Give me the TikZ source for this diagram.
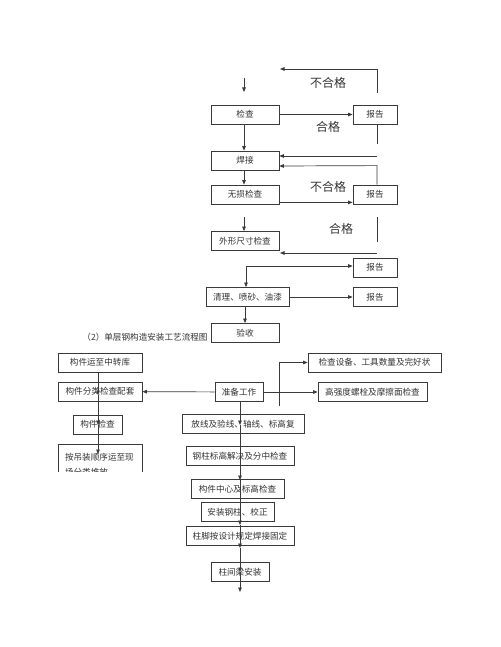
\documentclass[tikz,border=0pt]{standalone}
\usepackage{fontspec}
\setmainfont{Noto Sans CJK SC}
\usetikzlibrary{arrows.meta}
\definecolor{lnc}{HTML}{3A3A3A}
\definecolor{txc}{HTML}{333333}
\tikzset{
  fbox/.style={draw=lnc,line width=0.8pt,fill=white,inner sep=0pt,minimum height=19,
    text=txc,font=\fontsize{8.6}{10}\selectfont},
  flbl/.style={text=txc,font=\fontsize{12}{14}\selectfont},
  farr/.style={-{Triangle[length=4.5pt,width=3.6pt]},line width=0.7pt,draw=lnc},
  fln/.style={line width=0.7pt,draw=lnc}
}
\begin{document}
\begin{tikzpicture}[x=1pt,y=-1pt]
  \useasboundingbox (0,0) rectangle (500,647);
  % upper part
  \node[fbox,minimum width=68] (chk) at (245,114.5) {检查};
  \node[fbox,minimum width=44] (rep1) at (375,114.5) {报告};
  \node[fbox,minimum width=68] (weld) at (245,160.5) {焊接};
  \node[fbox,minimum width=68] (ndt) at (245,194.5) {无损检查};
  \node[fbox,minimum width=44] (rep2) at (375,194.5) {报告};
  \node[fbox,minimum width=68] (dim) at (245,241) {外形尺寸检查};
  \node[fbox,minimum width=44] (rep3) at (375,267.5) {报告};
  \node[fbox,minimum width=83] (clean) at (247.5,297) {清理、喷砂、油漆};
  \node[fbox,minimum width=44] (rep4) at (375,297) {报告};
  \node[fbox,minimum width=68] (acc) at (245,333) {验收};
  \node[flbl] (ng1) at (328,83) {不合格};
  \node[flbl] (ok1) at (328,127) {合格};
  \node[flbl] (ng2) at (328,187) {不合格};
  \node[flbl] (ok2) at (341,229) {合格};
  \coordinate (in1) at (244,78);
  \coordinate (in1e) at (244,92);
  \coordinate (fb1) at (377,93);
  \coordinate (fb1e) at (280,69);
  \coordinate (st1) at (377,144);
  \coordinate (fb2) at (377,156);
  \coordinate (in2) at (244,217);
  \coordinate (st2a) at (377,217);
  \coordinate (st2b) at (377,242);
  \coordinate (fb3) at (377,253);
  \coordinate (fb3e) at (280,253);
  \coordinate (br) at (246,266);
  \draw[farr] (in1) -- (in1e);
  \draw[farr] (fb1) -- (fb1 |- fb1e) -- (fb1e);
  \draw[farr] (chk) -- (rep1);
  \draw[farr] (chk.south -| in1) -- (weld.north -| in1);
  \draw[fln] (rep1.south -| st1) -- (st1);
  \draw[farr] (fb2) -- (fb2 -| weld.east);
  \draw[farr] (rep2.north -| st1) -- ++(0,-19) -- (weld.east |- 0,166);
  \draw[farr] (weld.south -| in1) -- (ndt.north -| in1);
  \draw[farr] ([yshift=2]ndt.south east) -- ([yshift=2]ndt.south east -| rep2.west);
  \draw[farr] (in2) -- (dim.north -| in2);
  \draw[fln] (st2a) -- (st2b);
  \draw[farr] (fb3) -- (fb3e);
  \draw[farr] (br) -- (br -| rep3.west);
  \draw[farr] (br) -- (clean.north -| br);
  \draw[farr] (clean) -- (rep4);
  \draw[farr] (clean.south -| acc) -- (acc);
  % lower part
  \node[text=txc,font=\fontsize{8.6}{10}\selectfont] (ttl) at (145,337) {（2）单层钢构造安装工艺流程图};
  \node[fbox,minimum width=84] (ku) at (100,362.5) {构件运至中转库};
  \node[fbox,minimum width=84] (fen) at (100,391.5) {构件分类检查配套};
  \node[fbox,minimum width=49] (gjc) at (97.5,424.5) {构件检查};
  \begin{scope}
    \clip (0,0) rectangle (500,471);
    \node[fbox,minimum width=84,minimum height=40,anchor=north,text width=70,align=left,
      font=\fontsize{8.6}{15}\selectfont] (dz) at (100,444) {按吊装顺序运至现\\场分类堆放};
  \end{scope}
  \node[fbox,minimum width=48] (prep) at (239,392) {准备工作};
  \node[fbox,minimum width=133] (sb) at (374.5,362.5) {检查设备、工具数量及完好状};
  \node[fbox,minimum width=109] (gq) at (372.5,392) {高强度螺栓及摩擦面检查};
  \node[fbox,minimum width=122] (fx) at (243,424) {放线及验线、轴线、标高复};
  \node[fbox,minimum width=108] (gz) at (240,456) {钢柱标高解决及分中检查};
  \node[fbox,minimum width=93] (zx) at (237.5,489) {构件中心及标高检查};
  \node[fbox,minimum width=73] (az) at (237.5,512) {安装钢柱、校正};
  \node[fbox,minimum width=108] (zj) at (240,536) {柱脚按设计规定焊接固定};
  \node[fbox,minimum width=58] (zl) at (240,572) {柱间梁安装};
  \coordinate (la) at (98,395);
  \coordinate (lb) at (98,425);
  \coordinate (lc) at (98,454);
  \coordinate (sv) at (279,406);
  \coordinate (ma) at (240,425);
  \coordinate (mb) at (240,480);
  \coordinate (mc) at (240,525);
  \coordinate (md) at (240,548);
  \coordinate (me) at (240,572);
  \coordinate (mf) at (240,592);
  \draw[farr] (ku.south -| la) -- (la);
  \draw[farr] (la) -- (lb);
  \draw[farr] (lb) -- (lc);
  \draw[farr] (prep) -- (fen);
  \draw[farr] (prep) -- (gq);
  \draw[farr] (sv) -- (sv |- sb) -- (sb);
  \draw[farr] (prep.south -| ma) -- (ma);
  \draw[farr] (ma) -- (mb);
  \draw[farr] (mb) -- (mc);
  \draw[farr] (mc) -- (md);
  \draw[farr] (md) -- (me);
  \draw[farr] (me) -- (mf);
\end{tikzpicture}
\end{document}
